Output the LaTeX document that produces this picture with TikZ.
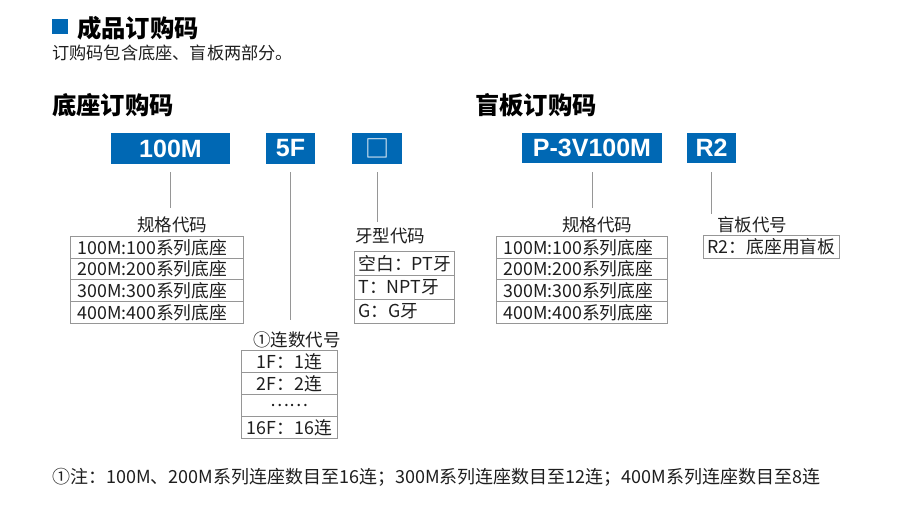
\documentclass[tikz,border=0pt]{standalone}
\usepackage{fontspec}
\setmainfont{Noto Sans CJK SC}
\newfontfamily\boxfont{Liberation Sans}
\definecolor{codeblue}{RGB}{0,104,180}
\definecolor{linegray}{RGB}{150,150,150}
\definecolor{txt}{RGB}{30,30,30}
\tikzset{
  codebox/.style={fill=codeblue, text=white, inner sep=0pt, minimum height=31pt,
    font=\boxfont\bfseries\fontsize{25}{25}\selectfont},
  conn/.style={draw=linegray, line width=0.9pt},
  lab/.style={inner sep=0pt, text=txt, font=\fontsize{17.5}{18}\selectfont},
  cell/.style={draw=linegray, line width=0.9pt, inner xsep=7pt, inner ysep=0pt,
    anchor=north west, text=txt, font=\fontsize{17.8}{18}\selectfont, align=left},
  ccell/.style={cell, align=center},
  head/.style={inner sep=0pt, anchor=west, text=black, font=\bfseries\fontsize{24.3}{25}\selectfont},
}
\begin{document}
\begin{tikzpicture}[x=1pt,y=-1pt]
\useasboundingbox[fill=white] (0,0) rectangle (900,526);
% headings
\fill[codeblue] (52,19) rectangle (68,34);
\node[head] (title) at (77,28) {成品订购码};
\node[inner sep=0pt, anchor=west, text=txt, font=\fontsize{17.2}{18}\selectfont] (sub) at (52,53) {订购码包含底座、盲板两部分。};
\node[head] (h1) at (52,105) {底座订购码};
\node[head] (h2) at (475,105) {盲板订购码};
% code boxes
\node[codebox, minimum width=119pt] (b1) at (170.5,148.5) {100M};
\node[codebox, minimum width=49pt] (b2) at (290.5,148.5) {5F};
\node[codebox, minimum width=50pt, font=\fontsize{24}{24}\selectfont] (b3) at (377,148.5) {□};
\node[codebox, minimum width=140pt, minimum height=30pt] (b4) at (592,148) {P-3V100M};
\node[codebox, minimum width=49pt, minimum height=30pt] (b5) at (711.5,148) {R2};
% line ends
\coordinate (e1) at (170.5,208);
\coordinate (e2) at (290.5,320);
\coordinate (e3) at (377,222);
\coordinate (e4) at (592,208);
\coordinate (e5) at (711.5,214);
\draw[conn] ([yshift=-8pt]b1.south) -- (e1);
\draw[conn] ([yshift=-8pt]b2.south) -- (e2);
\draw[conn] ([yshift=-8pt]b3.south) -- (e3);
\draw[conn] ([yshift=-9pt]b4.south) -- (e4);
\draw[conn] ([yshift=-9pt]b5.south) -- (e5);
% table 1
\node[lab] (l1) at (172,225) {规格代码};
\foreach \t [count=\i] in {100M:100系列底座,200M:200系列底座,300M:300系列底座,400M:400系列底座}{
  \node[cell, minimum width=173pt, minimum height=21.75pt, text width=159pt] (t1r\i) at (70,{236+(\i-1)*21.75}) {\t};
}
% table 2
\node[lab, anchor=west] (l2) at (355,236) {牙型代码};
\foreach \t [count=\i] in {空白：PT牙,T：NPT牙,G：G牙}{
  \node[cell, minimum width=100pt, minimum height=24pt, text width=92pt, inner xsep=4pt] (t2r\i) at (354,{251+(\i-1)*24}) {\t};
}
% table 3
\node[lab] (l3) at (297,340) {①连数代号};
\foreach \t [count=\i] in {1F：1连,2F：2连,……,16F：16连}{
  \node[ccell, minimum width=96pt, minimum height=22pt, text width=88pt, inner xsep=4pt] (t3r\i) at (241,{350+(\i-1)*22}) {\t};
}
% table 4
\node[lab] (l4) at (597,225) {规格代码};
\foreach \t [count=\i] in {100M:100系列底座,200M:200系列底座,300M:300系列底座,400M:400系列底座}{
  \node[cell, minimum width=171pt, minimum height=21.75pt, text width=157pt] (t4r\i) at (496,{236+(\i-1)*21.75}) {\t};
}
% table 5
\node[lab, anchor=west] (l5) at (717,225) {盲板代号};
\node[cell, minimum width=136pt, minimum height=23pt, text width=128pt, inner xsep=4pt] (t5r1) at (703,235) {R2：底座用盲板};
% footnote
\node[inner sep=0pt, anchor=west, text=txt, font=\fontsize{18}{19}\selectfont] (foot) at (52,477) {①注：100M、200M系列连座数目至16连；300M系列连座数目至12连；400M系列连座数目至8连};
\end{tikzpicture}
\end{document}
